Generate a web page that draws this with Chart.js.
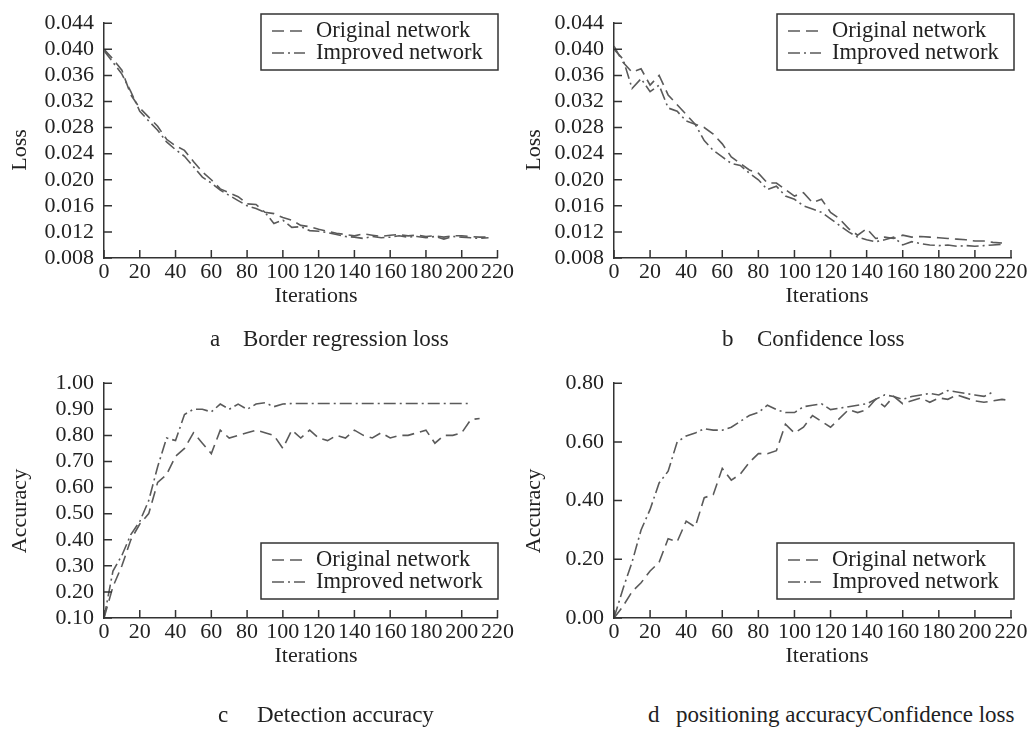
<!DOCTYPE html>
<html>
<head>
<meta charset="utf-8">
<script src="https://cdn.jsdelivr.net/npm/chart.js@4.4.0/dist/chart.umd.min.js"></script>
<style>
  body { margin: 0; background: #fff; }
  #page { position: relative; width: 1031px; height: 729px; overflow: hidden;
          font-family: "Liberation Serif", "Times New Roman", serif; color: #222; }
  canvas { position: absolute; }
  .lbl { position: absolute; font-size: 22px; white-space: nowrap; line-height: 1; }
  .ytitle { transform: translate(-50%, -50%) rotate(-90deg); }
  .xtitle { transform: translate(-50%, -50%); }
  .cap { position: absolute; font-size: 23px; white-space: nowrap; line-height: 1; transform: translateY(-50%); }
</style>
</head>
<body>
<div id="page">
  <canvas id="chartA" width="515" height="310" style="left:0;top:0"></canvas>
  <canvas id="chartB" width="516" height="310" style="left:515px;top:0"></canvas>
  <canvas id="chartC" width="515" height="310" style="left:0;top:360px"></canvas>
  <canvas id="chartD" width="516" height="310" style="left:515px;top:360px"></canvas>

  <div class="lbl ytitle" style="left:19px;top:150px">Loss</div>
  <div class="lbl ytitle" style="left:533px;top:150px">Loss</div>
  <div class="lbl ytitle" style="left:19px;top:511px">Accuracy</div>
  <div class="lbl ytitle" style="left:533px;top:511px">Accuracy</div>

  <div class="lbl xtitle" style="left:316px;top:295px">Iterations</div>
  <div class="lbl xtitle" style="left:827px;top:295px">Iterations</div>
  <div class="lbl xtitle" style="left:316px;top:655px">Iterations</div>
  <div class="lbl xtitle" style="left:827px;top:655px">Iterations</div>

  <div class="cap" style="left:210px;top:338px">a</div>
  <div class="cap" style="left:243px;top:338px">Border regression loss</div>
  <div class="cap" style="left:722px;top:338px">b</div>
  <div class="cap" style="left:757px;top:338px">Confidence loss</div>
  <div class="cap" style="left:218px;top:714px">c</div>
  <div class="cap" style="left:257px;top:714px">Detection accuracy</div>
  <div class="cap" style="left:648px;top:714px">d</div>
  <div class="cap" style="left:676px;top:714px">positioning accuracyConfidence loss</div>
</div>
<script>
// iterations (x values) shared by all four panels
const iters = [0, 5, 10, 15, 20, 25, 30, 35, 40, 45, 50, 55, 60, 65, 70, 75, 80, 85, 90, 95,
               100, 105, 110, 115, 120, 125, 130, 135, 140, 145, 150, 155, 160, 165, 170, 175,
               180, 185, 190, 195, 200, 205, 210, 215, 220];

// tick labels
const iterTicks = [0, 20, 40, 60, 80, 100, 120, 140, 160, 180, 200, 220];
const lossTicks = [0.008, 0.012, 0.016, 0.020, 0.024, 0.028, 0.032, 0.036, 0.040, 0.044];
const detTicks = [0.10, 0.20, 0.30, 0.40, 0.50, 0.60, 0.70, 0.80, 0.90, 1.00];
const posTicks = [0.00, 0.20, 0.40, 0.60, 0.80];

// a  Border regression loss
const borderOriginal = [0.0400, 0.0385, 0.0368, 0.0330, 0.0310, 0.0296, 0.0282, 0.0262, 0.0252, 0.0245,
                        0.0228, 0.0212, 0.0200, 0.0186, 0.0180, 0.0174, 0.0163, 0.0162, 0.0150, 0.0148,
                        0.0142, 0.0138, 0.0130, 0.0128, 0.0124, 0.0121, 0.0118, 0.0116, 0.0114, 0.0117,
                        0.0115, 0.0113, 0.0115, 0.0116, 0.0114, 0.0115, 0.0113, 0.0114, 0.0112, 0.0114,
                        0.0114, 0.0113, 0.0112, 0.0112, null];
const borderImproved = [0.0398, 0.0380, 0.0362, 0.0335, 0.0305, 0.0290, 0.0276, 0.0258, 0.0246, 0.0236,
                        0.0220, 0.0204, 0.0195, 0.0184, 0.0176, 0.0168, 0.0160, 0.0156, 0.0150, 0.0133,
                        0.0138, 0.0127, 0.0128, 0.0122, 0.0121, 0.0119, 0.0116, 0.0113, 0.0112, 0.0110,
                        0.0113, 0.0111, 0.0112, 0.0114, 0.0112, 0.0113, 0.0111, 0.0113, 0.0109, 0.0113,
                        0.0112, 0.0111, 0.0110, 0.0111, null];

// b  Confidence loss
const confOriginal = [0.0405, 0.0380, 0.0365, 0.0370, 0.0345, 0.0360, 0.0330, 0.0315, 0.0300, 0.0285,
                      0.0280, 0.0270, 0.0255, 0.0235, 0.0225, 0.0215, 0.0210, 0.0195, 0.0195, 0.0185,
                      0.0175, 0.0180, 0.0165, 0.0170, 0.0150, 0.0140, 0.0125, 0.0115, 0.0125, 0.0110,
                      0.0112, 0.0110, 0.0115, 0.0112, 0.0113, 0.0112, 0.0111, 0.0110, 0.0109, 0.0108,
                      0.0106, 0.0106, 0.0104, 0.0103, null];
const confImproved = [0.0400, 0.0385, 0.0340, 0.0355, 0.0335, 0.0345, 0.0310, 0.0305, 0.0290, 0.0285,
                      0.0260, 0.0245, 0.0235, 0.0225, 0.0222, 0.0210, 0.0200, 0.0185, 0.0190, 0.0175,
                      0.0170, 0.0160, 0.0155, 0.0150, 0.0140, 0.0130, 0.0120, 0.0112, 0.0108, 0.0105,
                      0.0108, 0.0112, 0.0100, 0.0105, 0.0102, 0.0100, 0.0099, 0.0100, 0.0098, 0.0099,
                      0.0098, 0.0099, 0.0100, 0.0101, null];

// c  Detection accuracy
const detOriginal = [0.10, 0.22, 0.30, 0.40, 0.46, 0.50, 0.62, 0.65, 0.72, 0.75,
                     0.81, 0.77, 0.73, 0.82, 0.79, 0.80, 0.81, 0.82, 0.81, 0.80,
                     0.75, 0.82, 0.79, 0.82, 0.79, 0.78, 0.80, 0.79, 0.82, 0.80,
                     0.79, 0.81, 0.79, 0.80, 0.80, 0.81, 0.82, 0.77, 0.80, 0.80,
                     0.81, 0.86, 0.865, null, null];
const detImproved = [0.10, 0.28, 0.34, 0.42, 0.47, 0.55, 0.68, 0.79, 0.78, 0.88,
                     0.90, 0.90, 0.89, 0.92, 0.90, 0.92, 0.90, 0.92, 0.925, 0.91,
                     0.92, 0.922, 0.922, 0.922, 0.922, 0.922, 0.922, 0.922, 0.922, 0.922,
                     0.922, 0.922, 0.922, 0.922, 0.922, 0.922, 0.922, 0.922, 0.922, 0.922,
                     0.922, 0.922, null, null, null];

// d  positioning accuracy
const posOriginal = [0.00, 0.04, 0.09, 0.12, 0.16, 0.19, 0.27, 0.26, 0.33, 0.31,
                     0.41, 0.42, 0.51, 0.47, 0.49, 0.53, 0.56, 0.56, 0.57, 0.66,
                     0.63, 0.65, 0.69, 0.67, 0.65, 0.68, 0.71, 0.70, 0.71, 0.745,
                     0.72, 0.755, 0.73, 0.74, 0.75, 0.735, 0.75, 0.745, 0.76, 0.75,
                     0.74, 0.735, 0.74, 0.745, 0.74];
const posImproved = [0.00, 0.10, 0.19, 0.30, 0.37, 0.46, 0.50, 0.60, 0.62, 0.63,
                     0.645, 0.64, 0.64, 0.65, 0.67, 0.69, 0.70, 0.725, 0.71, 0.70,
                     0.70, 0.72, 0.725, 0.73, 0.71, 0.715, 0.72, 0.725, 0.73, 0.745,
                     0.76, 0.755, 0.745, 0.755, 0.76, 0.765, 0.76, 0.775, 0.77, 0.765,
                     0.76, 0.755, 0.77, null, null];

const seriesNames = ['Original network', 'Improved network'];
const FONT = '"Liberation Serif", "Times New Roman", serif';

// ticks drawn inside the plot, like the original figure
const inwardTicks = {
    id: 'inwardTicks',
    afterDraw(chart) {
        const ctx = chart.ctx;
        const xs = chart.scales.x, ys = chart.scales.y;
        ctx.save();
        ctx.strokeStyle = '#333';
        ctx.lineWidth = 1.5;
        ctx.beginPath();
        xs.ticks.forEach(t => {
            const px = xs.getPixelForValue(t.value);
            ctx.moveTo(px, xs.top);
            ctx.lineTo(px, xs.top - 8);
        });
        ys.ticks.forEach(t => {
            const py = ys.getPixelForValue(t.value);
            ctx.moveTo(ys.right, py);
            ctx.lineTo(ys.right + 8, py);
        });
        ctx.stroke();
        ctx.restore();
    }
};

// framed legend box
const boxLegend = {
    id: 'boxLegend',
    afterDraw(chart, args, opts) {
        const ctx = chart.ctx;
        ctx.save();
        ctx.fillStyle = '#fff';
        ctx.fillRect(opts.x, opts.y, 237, 56);
        ctx.strokeStyle = '#333';
        ctx.lineWidth = 1.5;
        ctx.strokeRect(opts.x, opts.y, 237, 56);
        chart.data.datasets.forEach((ds, i) => {
            const cy = opts.y + 17 + i * 22;
            ctx.strokeStyle = ds.borderColor;
            ctx.lineWidth = ds.borderWidth;
            ctx.setLineDash(ds.borderDash);
            ctx.beginPath();
            ctx.moveTo(opts.x + 11, cy);
            ctx.lineTo(opts.x + 44, cy);
            ctx.stroke();
            ctx.setLineDash([]);
            ctx.fillStyle = '#222';
            ctx.font = '22.5px ' + FONT;
            ctx.textBaseline = 'middle';
            ctx.fillText(ds.label, opts.x + 55, cy);
        });
        ctx.restore();
    }
};

function makeChart(id, orig, impr, yTicks, decimals, padding, yWidth, legendPos) {
    const lineStyle = { borderColor: '#5a5a5a', borderWidth: 1.6, pointRadius: 0, tension: 0, fill: false };
    return new Chart(document.getElementById(id), {
        type: 'line',
        data: {
            datasets: [
                Object.assign({ label: seriesNames[0], borderDash: [12, 6],
                    data: iters.map((x, i) => ({ x: x, y: orig[i] })) }, lineStyle),
                Object.assign({ label: seriesNames[1], borderDash: [12, 4, 2, 4],
                    data: iters.map((x, i) => ({ x: x, y: impr[i] })) }, lineStyle)
            ]
        },
        options: {
            responsive: false,
            animation: false,
            layout: { padding: padding },
            plugins: {
                legend: { display: false },
                tooltip: { enabled: false },
                boxLegend: legendPos
            },
            scales: {
                x: {
                    type: 'linear',
                    min: iterTicks[0],
                    max: iterTicks[iterTicks.length - 1],
                    afterBuildTicks: function(scale) {
                        scale.ticks = iterTicks.map(v => ({ value: v }));
                    },
                    afterFit: function(scale) { scale.height = 52; },
                    grid: { display: false, drawTicks: false },
                    border: { color: '#333', width: 1.5 },
                    ticks: {
                        autoSkip: false, maxRotation: 0, padding: 1, color: '#222',
                        font: { family: FONT, size: 22 }
                    }
                },
                y: {
                    min: yTicks[0],
                    max: yTicks[yTicks.length - 1],
                    afterBuildTicks: function(scale) {
                        scale.ticks = yTicks.map(v => ({ value: v }));
                    },
                    afterFit: function(scale) { scale.width = yWidth; },
                    grid: { display: false, drawTicks: false },
                    border: { color: '#333', width: 1.5 },
                    ticks: {
                        autoSkip: false, padding: 10, color: '#222',
                        font: { family: FONT, size: 22 },
                        callback: function(value) { return Number(value).toFixed(decimals); }
                    }
                }
            }
        },
        plugins: [inwardTicks, boxLegend]
    });
}

makeChart('chartA', borderOriginal, borderImproved, lossTicks, 3,
          { top: 16, right: 15, bottom: 0, left: 0 }, 104, { x: 261, y: 14 });
makeChart('chartB', confOriginal, confImproved, lossTicks, 3,
          { top: 16, right: 20, bottom: 0, left: 0 }, 99, { x: 262, y: 14 });
makeChart('chartC', detOriginal, detImproved, detTicks, 2,
          { top: 13, right: 15, bottom: 0, left: 0 }, 104, { x: 261, y: 183 });
makeChart('chartD', posOriginal, posImproved, posTicks, 2,
          { top: 20, right: 20, bottom: 0, left: 0 }, 99, { x: 262, y: 183 });
</script>
</body>
</html>
